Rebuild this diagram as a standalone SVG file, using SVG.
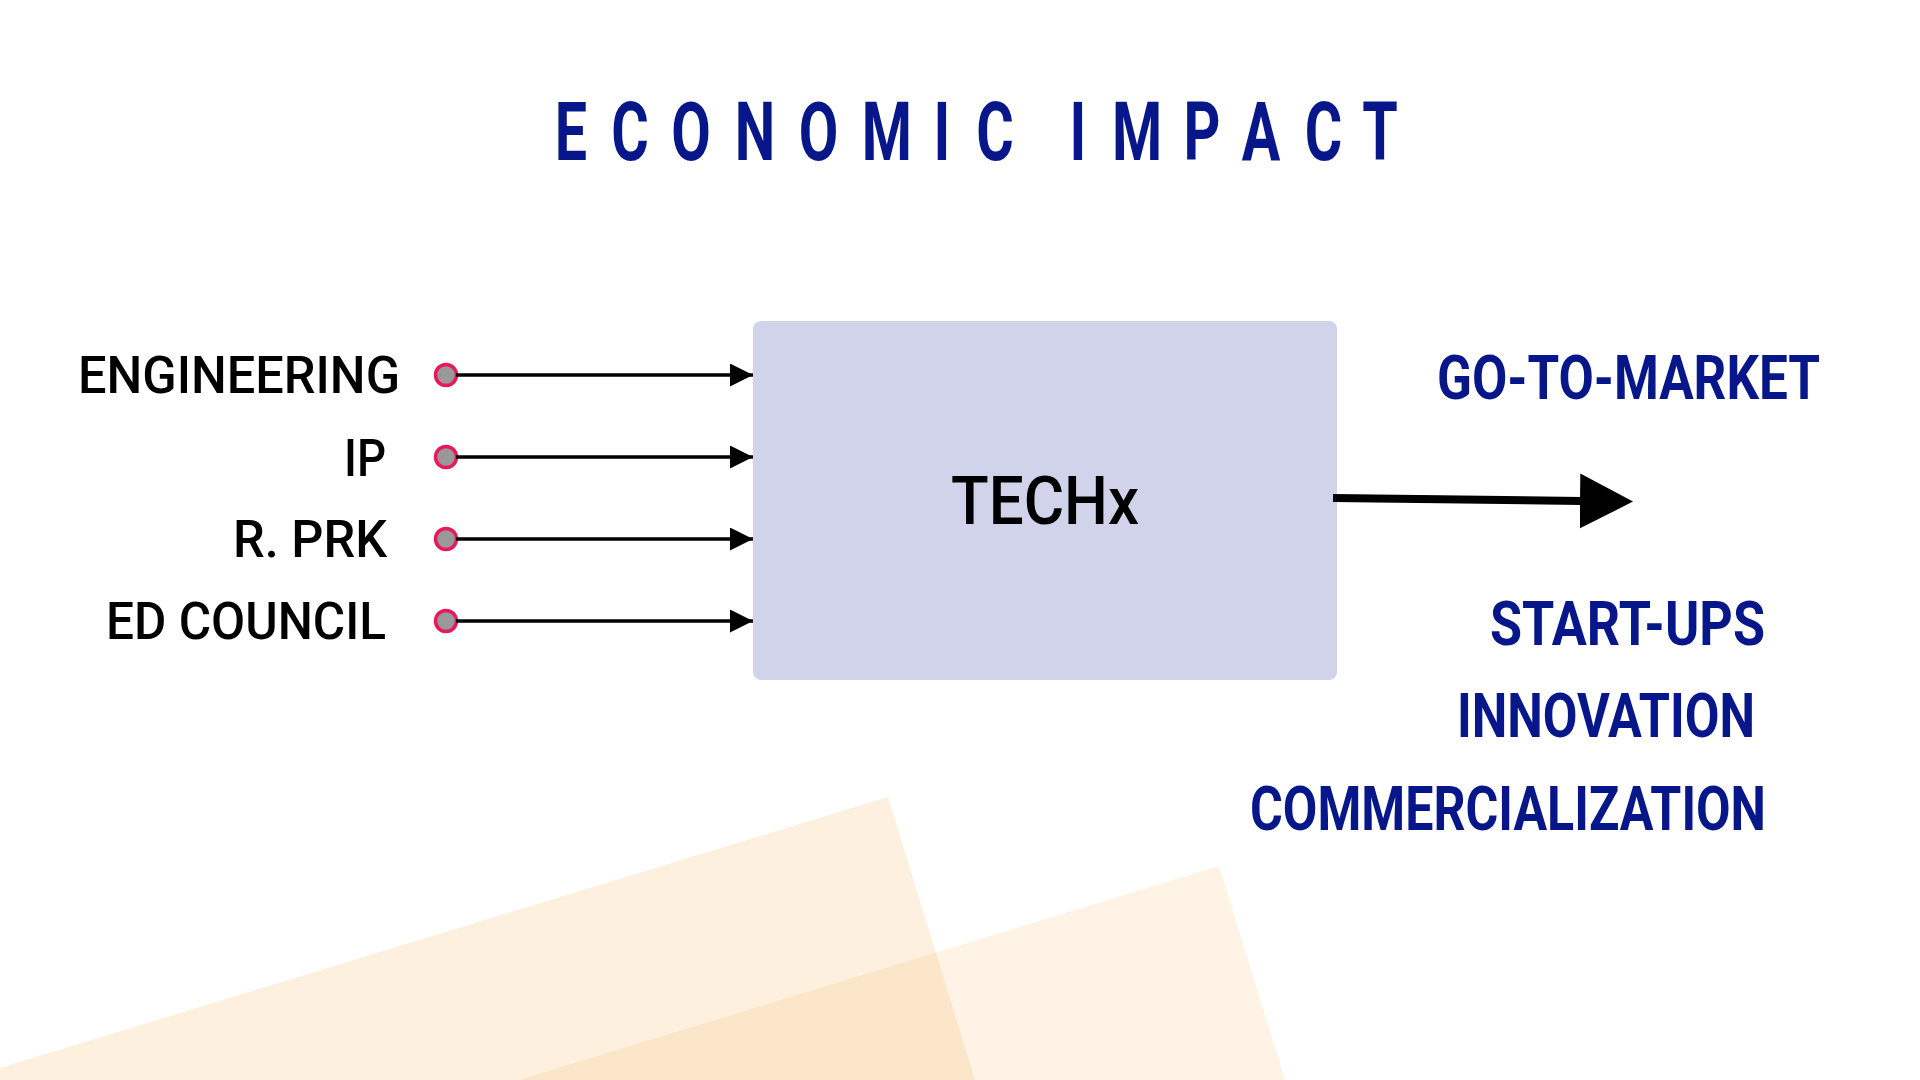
<svg xmlns="http://www.w3.org/2000/svg" width="1920" height="1080" viewBox="0 0 1920 1080">
<style>
.title{font-family:Roboto,"Liberation Sans",sans-serif;font-weight:700;font-size:82px;fill:#071789;text-anchor:middle}
.in{font-family:Roboto,"Liberation Sans",sans-serif;font-weight:500;font-size:51px;fill:#000}
.out{font-family:Roboto,"Liberation Sans",sans-serif;font-weight:700;font-size:62px;fill:#071789}
.core{font-family:Roboto,"Liberation Sans",sans-serif;font-weight:500;font-size:66px;fill:#000}
.dot{fill:#999999;stroke:#E8185F;stroke-width:3.5}
.wire{stroke:#000;stroke-width:3.5;fill:none}
</style>
<defs>
<marker id="ah" markerUnits="userSpaceOnUse" markerWidth="24" markerHeight="24" refX="23" refY="11.5" orient="auto">
<path d="M0,0 L23,11.5 L0,23 Z" fill="#000"/>
</marker>
<marker id="bigah" markerUnits="userSpaceOnUse" markerWidth="56" markerHeight="56" refX="2" refY="27.5" orient="auto">
<path d="M0,0 L53,27.5 L0,55 Z" fill="#000"/>
</marker>
</defs>
<rect width="1920" height="1080" fill="#fff"/>
<g id="background">
<polygon points="888,797 975,1080 0,1080 0,1068" fill="#F6B14F" fill-opacity="0.19"/>
<polygon points="1219,866 1285,1080 519,1080" fill="#F6B14F" fill-opacity="0.15"/>
</g>
<g id="title">
<text class="title" transform="scale(0.7 1)" x="815.7 900 987.1 1078.6 1169.3 1267.1 1345.7 1421.4 1480 1540 1624.3 1717.1 1801.4 1890.7 1971.4" y="160">ECONOMIC IMPACT</text>
</g>
<g id="node-techx">
<rect x="753" y="321" width="584" height="359" rx="8" fill="#D0D3E9"/>
<text class="core" x="951" y="524" textLength="188" lengthAdjust="spacingAndGlyphs">TECHx</text>
</g>
<g id="node-engineering">
<text class="in" x="78" y="393" textLength="322" lengthAdjust="spacingAndGlyphs">ENGINEERING</text>
<circle class="dot" cx="446" cy="375" r="10.5"/>
</g>
<g id="node-ip">
<text class="in" x="344" y="476" textLength="42" lengthAdjust="spacingAndGlyphs">IP</text>
<circle class="dot" cx="446" cy="457" r="10.5"/>
</g>
<g id="node-rprk">
<text class="in" x="233" y="557" textLength="154" lengthAdjust="spacingAndGlyphs">R. PRK</text>
<circle class="dot" cx="446" cy="539" r="10.5"/>
</g>
<g id="node-edcouncil">
<text class="in" x="106" y="639" textLength="280" lengthAdjust="spacingAndGlyphs">ED COUNCIL</text>
<circle class="dot" cx="446" cy="621" r="10.5"/>
</g>
<g id="node-outputs">
<text class="out" x="1437" y="399" textLength="383" lengthAdjust="spacingAndGlyphs">GO-TO-MARKET</text>
<text class="out" x="1490" y="645" textLength="275" lengthAdjust="spacingAndGlyphs">START-UPS</text>
<text class="out" x="1457" y="737" textLength="298" lengthAdjust="spacingAndGlyphs">INNOVATION</text>
<text class="out" x="1250" y="830" textLength="516" lengthAdjust="spacingAndGlyphs">COMMERCIALIZATION</text>
</g>
<g id="connectors">
<line class="wire" x1="456" y1="375" x2="753" y2="375" marker-end="url(#ah)"/>
<line class="wire" x1="456" y1="457" x2="753" y2="457" marker-end="url(#ah)"/>
<line class="wire" x1="456" y1="539" x2="753" y2="539" marker-end="url(#ah)"/>
<line class="wire" x1="456" y1="621" x2="753" y2="621" marker-end="url(#ah)"/>
<line x1="1333" y1="498" x2="1582" y2="501" stroke="#000" stroke-width="8" marker-end="url(#bigah)"/>
</g>
</svg>
